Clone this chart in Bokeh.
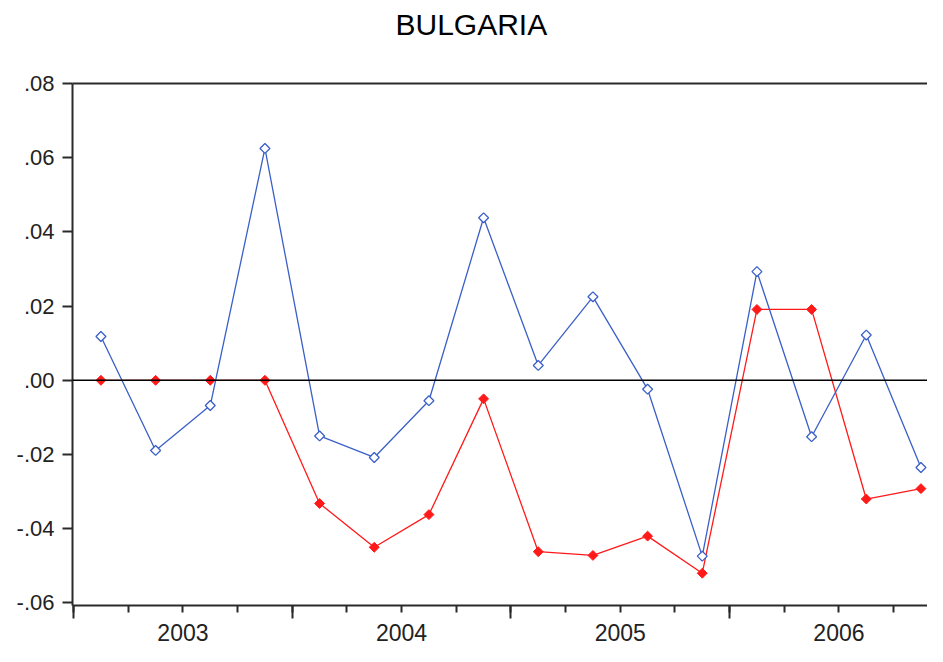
from bokeh.plotting import figure
from bokeh.models import (FixedTicker, LinearAxis, Range1d, Span,
                          CustomJSTickFormatter, ColumnDataSource)
from bokeh.embed import file_html
from bokeh.resources import INLINE

# ---- data ----
years = [2003, 2004, 2005, 2006]
quarters = ["2003Q1", "2003Q2", "2003Q3", "2003Q4",
            "2004Q1", "2004Q2", "2004Q3", "2004Q4",
            "2005Q1", "2005Q2", "2005Q3", "2005Q4",
            "2006Q1", "2006Q2", "2006Q3", "2006Q4"]
blue_values = [0.0118, -0.0189, -0.0068, 0.0625,
               -0.0150, -0.0208, -0.0055, 0.0438,
               0.0040, 0.0225, -0.0024, -0.0474,
               0.0293, -0.0152, 0.0122, -0.0235]
red_values = [0.0, 0.0, 0.0, 0.0,
              -0.0332, -0.0450, -0.0362, -0.0050,
              -0.0462, -0.0472, -0.0420, -0.0520,
              0.0191, 0.0191, -0.0320, -0.0292]
y_ticks = [-0.06, -0.04, -0.02, 0.0, 0.02, 0.04, 0.06, 0.08]
year_labels = ["2003", "2004", "2005", "2006"]
title_text = "BULGARIA"

def qpos(q):
    return int(q[:4]) + (int(q[5]) - 0.5) / 4.0

xs = [qpos(q) for q in quarters]
src = ColumnDataSource(dict(x=xs, blue=blue_values, red=red_values, q=quarters))

FONT = "Liberation Sans"
AX = "#2a2a2a"

p = figure(width=927, height=646, output_backend="svg", toolbar_location=None,
           x_range=Range1d(2002.995, 2006.905), y_range=Range1d(-0.0607, 0.08),
           min_border_left=72, min_border_top=83, min_border_bottom=41,
           min_border_right=0, x_axis_type=None, y_axis_type=None)
p.outline_line_color = None
p.grid.visible = False
p.background_fill_color = "white"
p.border_fill_color = "white"

# title
p.title.text = title_text
p.title.align = "left"
p.title.offset = 323
p.title.vertical_align = "bottom"
p.title.text_font = FONT
p.title.text_font_size = "30px"
p.title.text_font_style = "normal"
p.title.text_color = "black"
p.title.standoff = 4

# y axis
yax = LinearAxis(ticker=FixedTicker(ticks=y_ticks, minor_ticks=[]),
                 formatter=CustomJSTickFormatter(code="return tick.toFixed(2).replace('0.', '.');"))
yax.axis_line_color = AX
yax.axis_line_width = 2
yax.major_tick_line_color = AX
yax.major_tick_line_width = 2
yax.major_tick_in = 0
yax.major_tick_out = 10
yax.minor_tick_line_color = None
yax.major_label_text_font = FONT
yax.major_label_text_font_size = "22px"
yax.major_label_text_color = "#222222"
yax.major_label_standoff = 8
p.add_layout(yax, "left")

# x axis: ticks only
minor = [y + k / 4.0 for y in years for k in range(4)] + [2007.0]
xax = LinearAxis(ticker=FixedTicker(ticks=years + [2007], minor_ticks=minor),
                 formatter=CustomJSTickFormatter(code="return '';"))
xax.axis_line_color = AX
xax.axis_line_width = 2
xax.major_tick_line_color = AX
xax.major_tick_line_width = 2
xax.major_tick_in = 0
xax.major_tick_out = 13
xax.minor_tick_line_color = AX
xax.minor_tick_line_width = 2
xax.minor_tick_in = 0
xax.minor_tick_out = 7
xax.major_label_text_font_size = "0px"
xax.major_label_standoff = 0
p.add_layout(xax, "below")

# x axis: year labels centred on each year
yl_over = {yr + 0.5: lab for yr, lab in zip(years, year_labels)}
lax = LinearAxis(ticker=FixedTicker(ticks=[yr + 0.5 for yr in years], minor_ticks=[]),
                 major_label_overrides=yl_over)
lax.axis_line_color = None
lax.major_tick_line_color = None
lax.minor_tick_line_color = None
lax.major_tick_in = 0
lax.major_tick_out = 0
lax.major_label_standoff = 5
lax.major_label_text_font = FONT
lax.major_label_text_font_size = "23px"
lax.major_label_text_color = "#222222"
p.add_layout(lax, "below")

# top line (its invisible tick reserves the gap between title and frame)
tax = LinearAxis(ticker=FixedTicker(ticks=[2005], minor_ticks=[]),
                 formatter=CustomJSTickFormatter(code="return '';"))
tax.axis_line_color = AX
tax.axis_line_width = 2
tax.major_label_text_font_size = "0px"
tax.major_label_standoff = 0
tax.major_tick_line_color = None
tax.major_tick_in = 0
tax.major_tick_out = 41
tax.minor_tick_line_color = None
p.add_layout(tax, "above")

# zero line
p.add_layout(Span(location=0, dimension="width", line_color="black", line_width=1.6))

RED = "#ff1a1a"
BLUE = "#3a5fc8"
ANG = 0.7854
p.line("x", "red", source=src, line_color=RED, line_width=1.3)
p.scatter("x", "red", source=src, marker="square", size=7, angle=ANG,
          fill_color=RED, line_color=RED, line_width=1)
p.line("x", "blue", source=src, line_color=BLUE, line_width=1.3)
p.scatter("x", "blue", source=src, marker="square", size=7, angle=ANG,
          fill_color="white", line_color=BLUE, line_width=1.3)

open("out.html", "w").write(file_html(p, INLINE))
